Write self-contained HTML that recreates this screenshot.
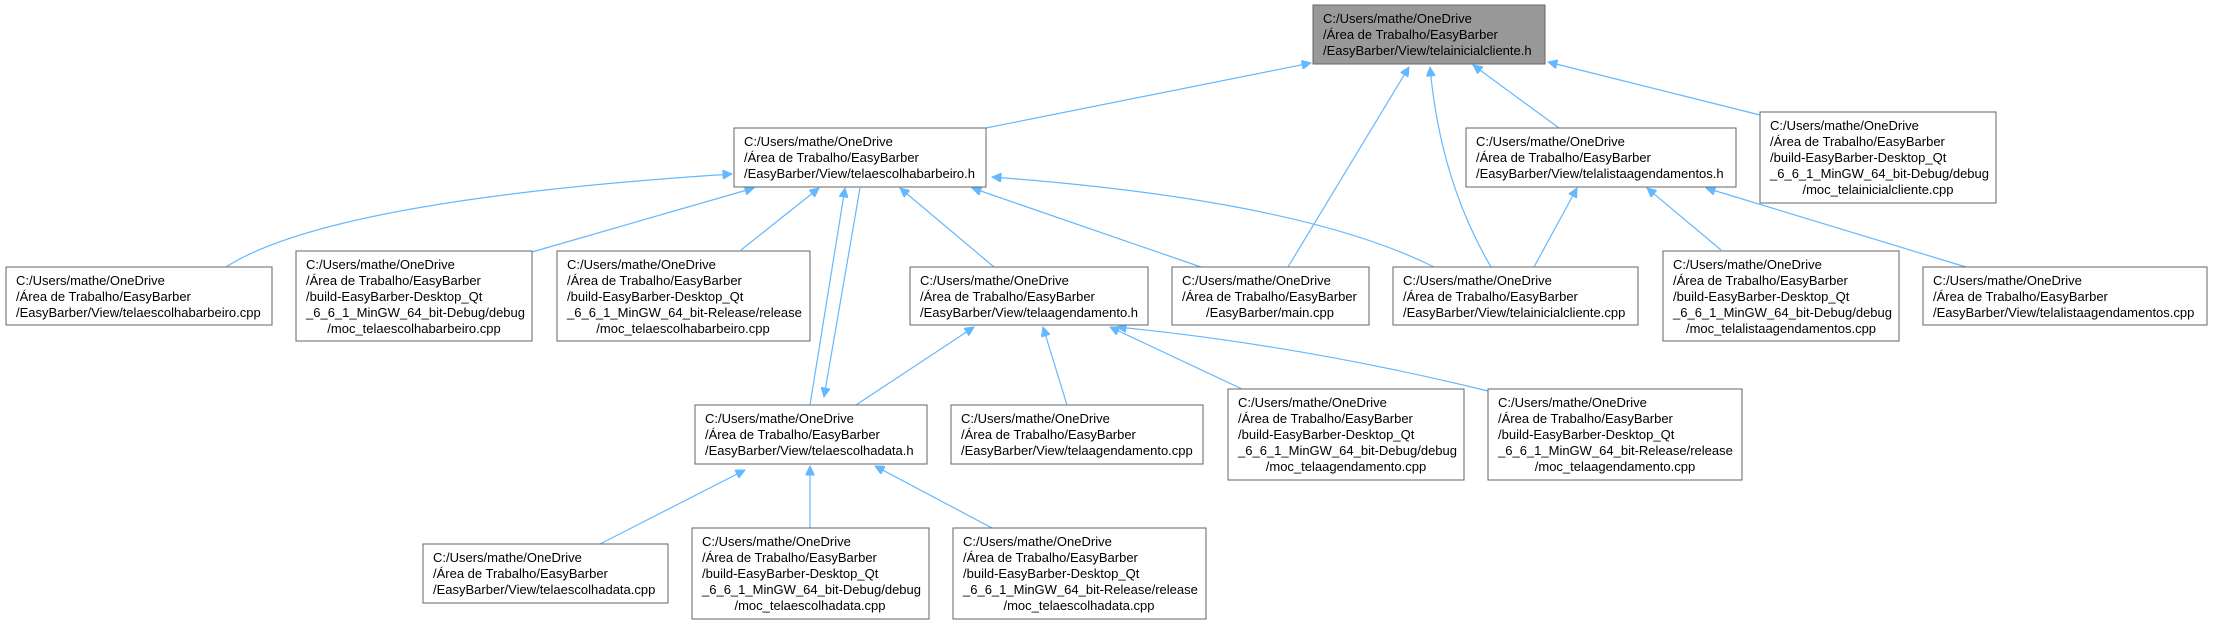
<!DOCTYPE html>
<html><head><meta charset="utf-8"><style>
html,body{margin:0;padding:0;background:#fff;}
svg{display:block;}
text{font-family:"Liberation Sans",Arial,sans-serif;font-size:13px;fill:#000;}
.b{fill:#fff;stroke:#666;stroke-width:1;}
.s{fill:none;stroke:#aaa;stroke-width:2;}
.e{fill:none;stroke:#63b8ff;stroke-width:1.2;}
</style></head><body>
<svg width="2213" height="624" viewBox="0 0 2213 624" xmlns="http://www.w3.org/2000/svg">
<defs>
<marker id="a" viewBox="0 0 10 10" refX="10" refY="5" markerWidth="11" markerHeight="9" markerUnits="userSpaceOnUse" orient="auto">
<path d="M0,0 L10,5 L0,10 z" fill="#63b8ff" stroke="#63b8ff"/>
</marker>
</defs>

<!-- edges -->
<g class="e" marker-end="url(#a)">
<path d="M986,128 L1311,63"/>
<path d="M1288,267 L1409,67"/>
<path d="M1491,267 Q1440,180 1430,67"/>
<path d="M1559,128 L1473,65"/>
<path d="M1760,115 L1548,62"/>

<path d="M226,267 Q330,200 732,174"/>
<path d="M532,252 L754,188"/>
<path d="M741,250 L819,188"/>
<path d="M810,405 L845,188"/>
<path d="M860,188 L824,397"/>
<path d="M994,267 L900,188"/>
<path d="M1201,267 L972,188"/>
<path d="M1434,267 Q1300,200 992,177"/>

<path d="M856,405 L974,327"/>
<path d="M1067,405 L1043,327"/>
<path d="M1242,389 L1110,327"/>
<path d="M1488,391 Q1300,345 1117,327"/>

<path d="M1534,267 L1577,188"/>
<path d="M1721,250 L1647,188"/>
<path d="M1966,267 L1706,188"/>

<path d="M600,544 L745,470"/>
<path d="M810,528 L810,466"/>
<path d="M992,528 L875,466"/>
</g>

<!-- root -->
<rect x="1313" y="5" width="232" height="59" fill="#999" stroke="#666"/>
<text x="1323" y="23">C:/Users/mathe/OneDrive</text>
<text x="1323" y="39">/Área de Trabalho/EasyBarber</text>
<text x="1323" y="55">/EasyBarber/View/telainicialcliente.h</text>

<!-- 3-line boxes -->
<g>
<rect class="b" x="734" y="128" width="252" height="59"/>
<text x="744" y="146">C:/Users/mathe/OneDrive</text>
<text x="744" y="162">/Área de Trabalho/EasyBarber</text>
<text x="744" y="178">/EasyBarber/View/telaescolhabarbeiro.h</text>

<rect class="b" x="1466" y="128" width="270" height="59"/>
<text x="1476" y="146">C:/Users/mathe/OneDrive</text>
<text x="1476" y="162">/Área de Trabalho/EasyBarber</text>
<text x="1476" y="178">/EasyBarber/View/telalistaagendamentos.h</text>

<rect class="b" x="6" y="267" width="266" height="58"/>
<text x="16" y="285">C:/Users/mathe/OneDrive</text>
<text x="16" y="301">/Área de Trabalho/EasyBarber</text>
<text x="16" y="317">/EasyBarber/View/telaescolhabarbeiro.cpp</text>

<rect class="b" x="910" y="267" width="238" height="58"/>
<text x="920" y="285">C:/Users/mathe/OneDrive</text>
<text x="920" y="301">/Área de Trabalho/EasyBarber</text>
<text x="920" y="317">/EasyBarber/View/telaagendamento.h</text>

<rect class="b" x="1172" y="267" width="197" height="58"/>
<text x="1182" y="285">C:/Users/mathe/OneDrive</text>
<text x="1182" y="301">/Área de Trabalho/EasyBarber</text>
<text x="1270" y="317" text-anchor="middle">/EasyBarber/main.cpp</text>

<rect class="b" x="1393" y="267" width="245" height="58"/>
<text x="1403" y="285">C:/Users/mathe/OneDrive</text>
<text x="1403" y="301">/Área de Trabalho/EasyBarber</text>
<text x="1403" y="317">/EasyBarber/View/telainicialcliente.cpp</text>

<rect class="b" x="1923" y="267" width="284" height="58"/>
<text x="1933" y="285">C:/Users/mathe/OneDrive</text>
<text x="1933" y="301">/Área de Trabalho/EasyBarber</text>
<text x="1933" y="317">/EasyBarber/View/telalistaagendamentos.cpp</text>

<rect class="b" x="695" y="405" width="232" height="59"/>
<text x="705" y="423">C:/Users/mathe/OneDrive</text>
<text x="705" y="439">/Área de Trabalho/EasyBarber</text>
<text x="705" y="455">/EasyBarber/View/telaescolhadata.h</text>

<rect class="b" x="951" y="405" width="252" height="59"/>
<text x="961" y="423">C:/Users/mathe/OneDrive</text>
<text x="961" y="439">/Área de Trabalho/EasyBarber</text>
<text x="961" y="455">/EasyBarber/View/telaagendamento.cpp</text>

<rect class="b" x="423" y="544" width="245" height="59"/>
<text x="433" y="562">C:/Users/mathe/OneDrive</text>
<text x="433" y="578">/Área de Trabalho/EasyBarber</text>
<text x="433" y="594">/EasyBarber/View/telaescolhadata.cpp</text>
</g>

<!-- 5-line boxes -->
<g>
<rect class="b" x="1760" y="112" width="236" height="91"/>
<text x="1770" y="130">C:/Users/mathe/OneDrive</text>
<text x="1770" y="146">/Área de Trabalho/EasyBarber</text>
<text x="1770" y="162">/build-EasyBarber-Desktop_Qt</text>
<text x="1770" y="178">_6_6_1_MinGW_64_bit-Debug/debug</text>
<text x="1878" y="194" text-anchor="middle">/moc_telainicialcliente.cpp</text>

<rect class="b" x="296" y="251" width="236" height="90"/>
<text x="306" y="269">C:/Users/mathe/OneDrive</text>
<text x="306" y="285">/Área de Trabalho/EasyBarber</text>
<text x="306" y="301">/build-EasyBarber-Desktop_Qt</text>
<text x="306" y="317">_6_6_1_MinGW_64_bit-Debug/debug</text>
<text x="414" y="333" text-anchor="middle">/moc_telaescolhabarbeiro.cpp</text>

<rect class="b" x="557" y="251" width="253" height="90"/>
<text x="567" y="269">C:/Users/mathe/OneDrive</text>
<text x="567" y="285">/Área de Trabalho/EasyBarber</text>
<text x="567" y="301">/build-EasyBarber-Desktop_Qt</text>
<text x="567" y="317">_6_6_1_MinGW_64_bit-Release/release</text>
<text x="683" y="333" text-anchor="middle">/moc_telaescolhabarbeiro.cpp</text>

<rect class="b" x="1663" y="251" width="236" height="90"/>
<text x="1673" y="269">C:/Users/mathe/OneDrive</text>
<text x="1673" y="285">/Área de Trabalho/EasyBarber</text>
<text x="1673" y="301">/build-EasyBarber-Desktop_Qt</text>
<text x="1673" y="317">_6_6_1_MinGW_64_bit-Debug/debug</text>
<text x="1781" y="333" text-anchor="middle">/moc_telalistaagendamentos.cpp</text>

<rect class="b" x="1228" y="389" width="236" height="91"/>
<text x="1238" y="407">C:/Users/mathe/OneDrive</text>
<text x="1238" y="423">/Área de Trabalho/EasyBarber</text>
<text x="1238" y="439">/build-EasyBarber-Desktop_Qt</text>
<text x="1238" y="455">_6_6_1_MinGW_64_bit-Debug/debug</text>
<text x="1346" y="471" text-anchor="middle">/moc_telaagendamento.cpp</text>

<rect class="b" x="1488" y="389" width="254" height="91"/>
<text x="1498" y="407">C:/Users/mathe/OneDrive</text>
<text x="1498" y="423">/Área de Trabalho/EasyBarber</text>
<text x="1498" y="439">/build-EasyBarber-Desktop_Qt</text>
<text x="1498" y="455">_6_6_1_MinGW_64_bit-Release/release</text>
<text x="1615" y="471" text-anchor="middle">/moc_telaagendamento.cpp</text>

<rect class="b" x="692" y="528" width="237" height="91"/>
<text x="702" y="546">C:/Users/mathe/OneDrive</text>
<text x="702" y="562">/Área de Trabalho/EasyBarber</text>
<text x="702" y="578">/build-EasyBarber-Desktop_Qt</text>
<text x="702" y="594">_6_6_1_MinGW_64_bit-Debug/debug</text>
<text x="810" y="610" text-anchor="middle">/moc_telaescolhadata.cpp</text>

<rect class="b" x="953" y="528" width="253" height="91"/>
<text x="963" y="546">C:/Users/mathe/OneDrive</text>
<text x="963" y="562">/Área de Trabalho/EasyBarber</text>
<text x="963" y="578">/build-EasyBarber-Desktop_Qt</text>
<text x="963" y="594">_6_6_1_MinGW_64_bit-Release/release</text>
<text x="1079" y="610" text-anchor="middle">/moc_telaescolhadata.cpp</text>
</g>
</svg>
</body></html>
